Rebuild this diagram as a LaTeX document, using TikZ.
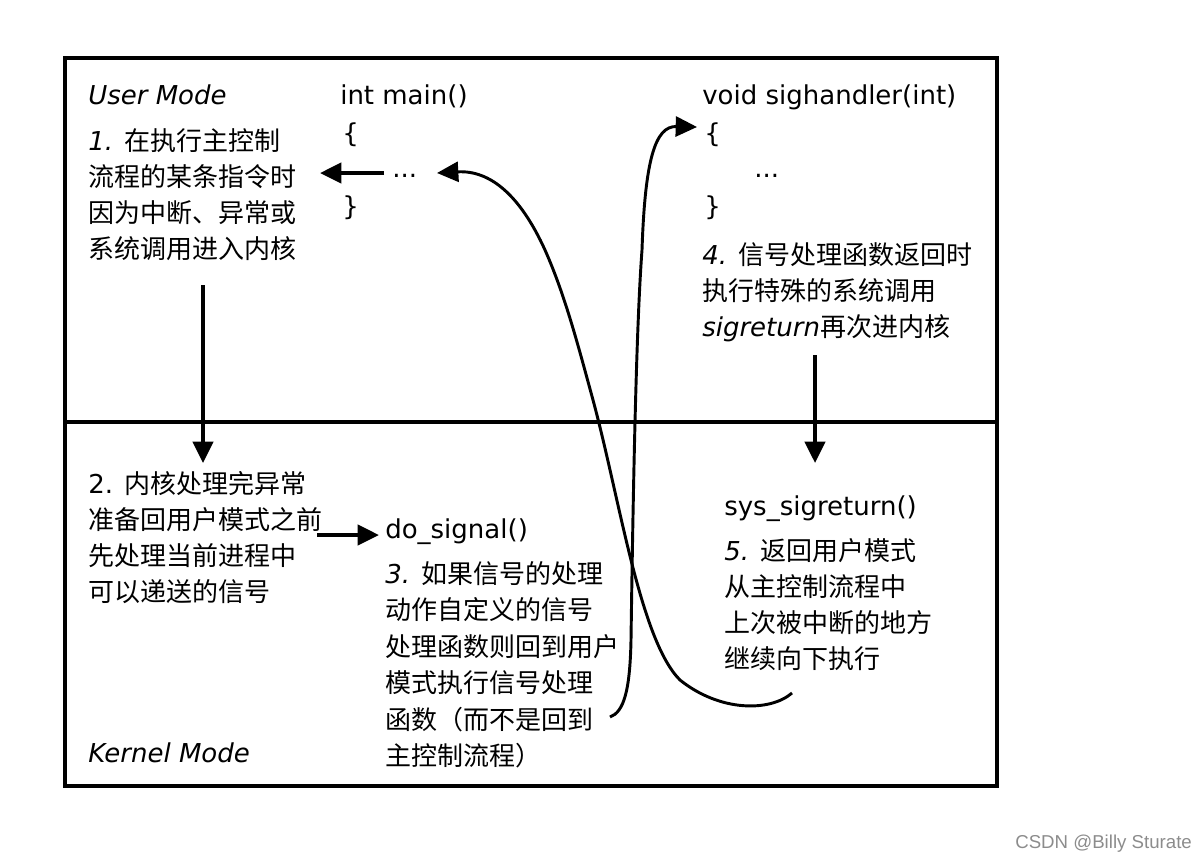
\documentclass[tikz,border=0pt]{standalone}
\usepackage{fontspec}
\setmainfont{DejaVu Sans}
\newfontfamily\cjk{Noto Sans CJK SC}
\newfontfamily\wmfont{Liberation Sans}
\newcommand\zhtext[1]{{\cjk #1}}
\usetikzlibrary{arrows.meta,calc}
\begin{document}
\begin{tikzpicture}[x=0.75pt,y=-0.75pt,
  txt/.style={anchor=base west, inner sep=0pt, font=\fontsize{19.5}{27}\selectfont},
  arr/.style={line width=3pt, -{Triangle[length=16pt,width=15pt]}},
  carr/.style={line width=2.2pt, -{Triangle[length=16pt,width=15pt]}},
  frame/.style={line width=3pt}]
\useasboundingbox (0,0) rectangle (1202,861);
% frame
\draw[frame] (65,58) rectangle (997,786);
\draw[frame] (65,422) -- (997,422);
% mode labels
\node[txt, font=\fontsize{19.5}{27}\selectfont\itshape] (um) at (88,104) {User Mode};
\node[txt, font=\fontsize{19.5}{27}\selectfont\itshape] (km) at (88,762) {Kernel Mode};
% main
\node[txt] (main) at (340,104) {int main()};
\node[txt] (mlb) at (342,142) {\{};
\node[txt] (mdots) at (392,177) {...};
\node[txt] (mrb) at (342,215) {\}};
% sighandler
\node[txt] (sh) at (702,104) {void sighandler(int)};
\node[txt] (slb) at (704,142) {\{};
\node[txt] (sdots) at (754,177) {...};
\node[txt] (srb) at (704,215) {\}};
% kernel functions
\node[txt] (dosig) at (385,538) {do\_signal()};
\node[txt] (sysret) at (724,515) {sys\_sigreturn()};
% step 1
\foreach \t [count=\i] in {{\textit{1.} \zhtext{在执行主控制}},{\zhtext{流程的某条指令时}},{\zhtext{因为中断、异常或}},{\zhtext{系统调用进入内核}}}
  \node[txt] (s1-\i) at (88,{150+36*(\i-1)}) {\t};
% step 2
\foreach \t [count=\i] in {{2. \zhtext{内核处理完异常}},{\zhtext{准备回用户模式之前}},{\zhtext{先处理当前进程中}},{\zhtext{可以递送的信号}}}
  \node[txt] (s2-\i) at (88,{493+36*(\i-1)}) {\t};
% step 3
\foreach \t [count=\i] in {{\textit{3.} \zhtext{如果信号的处理}},{\zhtext{动作自定义的信号}},{\zhtext{处理函数则回到用户}},{\zhtext{模式执行信号处理}},{\zhtext{函数（而不是回到}},{\zhtext{主控制流程）}}}
  \node[txt] (s3-\i) at (385,{583+36.5*(\i-1)}) {\t};
% step 4
\foreach \t [count=\i] in {{\textit{4.} \zhtext{信号处理函数返回时}},{\zhtext{执行特殊的系统调用}},{\textit{sigreturn}\zhtext{再次进内核}}}
  \node[txt] (s4-\i) at (702,{264+36*(\i-1)}) {\t};
% step 5
\foreach \t [count=\i] in {{\textit{5.} \zhtext{返回用户模式}},{\zhtext{从主控制流程中}},{\zhtext{上次被中断的地方}},{\zhtext{继续向下执行}}}
  \node[txt] (s5-\i) at (724,{560+36*(\i-1)}) {\t};
% watermark
\node[anchor=base west, inner sep=0pt, text=black!45, font=\wmfont\fontsize{14}{16}\selectfont] (wm) at (1015,848) {CSDN @Billy Sturate};
% arrow endpoints
\coordinate (a1s) at (384,173);
\coordinate (a1e) at (320,173);
\coordinate (d1s) at (203,285);
\coordinate (d1e) at (203,463);
\coordinate (r2s) at (317,535);
\coordinate (r2e) at (379,535);
\coordinate (d4s) at (815,355);
\coordinate (d4e) at (815,463);
\coordinate (cAs) at (610,717);
\coordinate (cAe) at (697,127);
\coordinate (cBs) at (792,693);
\coordinate (cBe) at (437,173);
% straight arrows
\draw[arr] (a1s) -- (a1e);
\draw[arr] (d1s) -- (d1e);
\draw[arr] (r2s) -- (r2e);
\draw[arr] (d4s) -- (d4e);
% curve: do_signal -> sighandler
\draw[carr] (cAs) .. controls (624,712) and (630,690) .. (631,640)
  .. controls (633,500) and (636,330) .. (642,250)
  .. controls (645,160) and (655,126) .. (cAe);
% curve: sys_sigreturn -> main
\draw[carr] (cBs) .. controls (770,712) and (720,712) .. (680,680)
  .. controls (640,640) and (620,500) .. (593,400)
  .. controls (578,345) and (565,295) .. (545,250)
  .. controls (520,195) and (490,170) .. (cBe);
\end{tikzpicture}
\end{document}
